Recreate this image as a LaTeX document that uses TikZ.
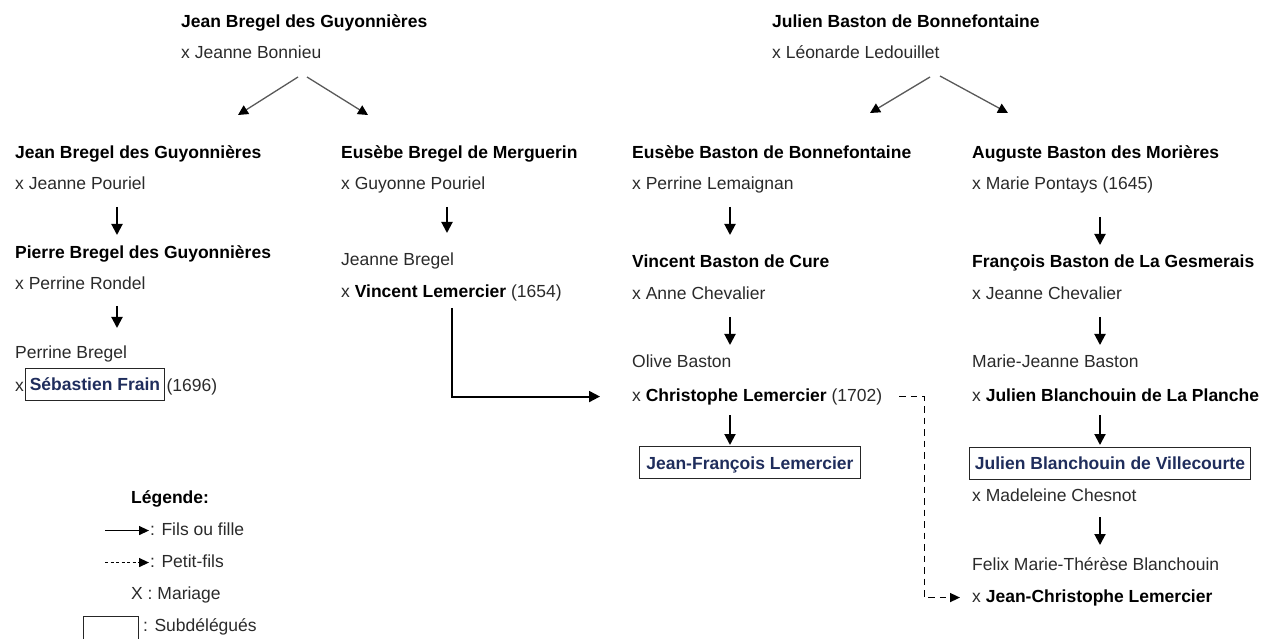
\documentclass[tikz,border=0pt]{standalone}
\usepackage{fontspec}
\setmainfont{Liberation Sans}
\usetikzlibrary{arrows.meta,calc}
\definecolor{subblue}{HTML}{1F2D5C}
\definecolor{plaintext}{HTML}{2A2A2A}
\newcommand\pname[1]{\textcolor{black}{\bfseries #1}}
\tikzset{
  person/.style   = {anchor=base west, inner sep=0pt, text height=12.6bp,
                     text depth=3.7bp, text=plaintext},
  sub box/.style  = {draw=black!85, line width=0.9pt, inner sep=0pt,
                     minimum height=32bp, text height=13bp, text depth=0pt,
                     font=\bfseries, text=subblue, anchor=west},
  kid/.style      = {-{Triangle[length=11bp,width=11bp]}, line width=2bp},
  grandkid/.style = {-{Triangle[length=10bp,width=9bp]}, line width=1.5bp,
                     dash pattern=on 6.5bp off 5bp},
  desc/.style     = {-{Triangle[length=10bp,width=10bp,color=black]},
                     line width=1.3bp, black!65},
  legend kid/.style = {-{Triangle[length=10bp,width=9bp]}, line width=1.3bp},
}

\begin{document}
\fontsize{17.5bp}{21bp}\selectfont
\begin{tikzpicture}[x=1bp,y=-1bp]
  \useasboundingbox (0,0) rectangle (1273,639);

  % couples at the top
  \node[person] (jbg0) at (181,28) {\pname{Jean Bregel des Guyonnières}};
  \node[person] (jbon) at (181,59) {x Jeanne Bonnieu};
  \node[person] (jbb0) at (772,28) {\pname{Julien Baston de Bonnefontaine}};
  \node[person] (lled) at (772,59) {x Léonarde Ledouillet};

  \draw[desc] ([shift={(117,18)}]jbon.base west) -- ++(-60,38);
  \draw[desc] ([shift={(126,18)}]jbon.base west) -- ++(61,38);
  \draw[desc] ([shift={(158,18)}]lled.base west) -- ++(-60,36);
  \draw[desc] ([shift={(168,17)}]lled.base west) -- ++(68,37);

  % Bregel des Guyonnieres
  \node[person] (jbg1) at (15,159) {\pname{Jean Bregel des Guyonnières}};
  \node[person] (jpou) at (15,190) {x Jeanne Pouriel};
  \node[person] (pbg)  at (15,259) {\pname{Pierre Bregel des Guyonnières}};
  \node[person] (pron) at (15,290) {x Perrine Rondel};
  \node[person] (pbr)  at (15,359) {Perrine Bregel};
  \node[person] (sfx)  at (15,391) {x};
  \node[sub box, minimum width=139bp] (sfr) at (25,384) {Sébastien Frain};
  \node[person] (sfy) at ([xshift=1.5bp]sfr.east |- sfx.base) {(1696)};
  \draw[kid] ([shift={(102,17)}]jpou.base west) -- ++(0,28);
  \draw[kid] ([shift={(102,16)}]pron.base west) -- ++(0,22);

  % Bregel de Merguerin
  \node[person] (ebm)  at (341,159) {\pname{Eusèbe Bregel de Merguerin}};
  \node[person] (gpou) at (341,190) {x Guyonne Pouriel};
  \node[person] (jbre) at (341,266) {Jeanne Bregel};
  \node[person] (vlem) at (341,298) {x \pname{Vincent Lemercier} (1654)};
  \draw[kid] ([shift={(106,17)}]gpou.base west) -- ++(0,26);

  % Baston de Bonnefontaine
  \node[person] (ebb)  at (632,159) {\pname{Eusèbe Baston de Bonnefontaine}};
  \node[person] (plem) at (632,190) {x Perrine Lemaignan};
  \node[person] (vbc)  at (632,268) {\pname{Vincent Baston de Cure}};
  \node[person] (ache) at (632,300) {x Anne Chevalier};
  \node[person] (obas) at (632,368) {Olive Baston};
  \node[person] (clem) at (632,401) {x \pname{Christophe Lemercier} (1702)};
  \node[sub box, minimum width=221bp] (jfl) at (639,462.5) {Jean-François Lemercier};
  \draw[kid] ([shift={(98,17)}]plem.base west) -- ++(0,28);
  \draw[kid] ([shift={(98,17)}]ache.base west) -- ++(0,28);
  \draw[kid] ([shift={(98,14)}]clem.base west) -- ++(0,30);

  % Baston des Morieres
  \node[person] (abm)  at (972,159) {\pname{Auguste Baston des Morières}};
  \node[person] (mpon) at (972,190) {x Marie Pontays (1645)};
  \node[person] (fbg)  at (972,268) {\pname{François Baston de La Gesmerais}};
  \node[person] (jche) at (972,300) {x Jeanne Chevalier};
  \node[person] (mjb)  at (972,368) {Marie-Jeanne Baston};
  \node[person] (jbp)  at (972,401) {x \pname{Julien Blanchouin de La Planche}};
  \node[sub box, minimum width=281bp] (jbv) at (969,463) {Julien Blanchouin de Villecourte};
  \node[person] (mche) at (972,501) {x Madeleine Chesnot};
  \node[person] (fmtb) at (972,570) {Felix Marie-Thérèse Blanchouin};
  \node[person] (jcl)  at (972,602) {x \pname{Jean-Christophe Lemercier}};
  \draw[kid] ([shift={(128,27)}]mpon.base west) -- ++(0,28);
  \draw[kid] ([shift={(128,17)}]jche.base west) -- ++(0,28);
  \draw[kid] ([shift={(128,14)}]jbp.base west) -- ++(0,30);
  \draw[kid] ([shift={(128,16)}]mche.base west) -- ++(0,28);

  % links between the families
  \draw[kid] ([shift={(111,10)}]vlem.base west) |- ([xshift=-32bp]clem.west);
  \draw[grandkid] ([xshift=17bp]clem.east) -- ++(25,0) |- ([xshift=-12bp]jcl.west);

  % legend
  \node[person] (leg)  at (131,503) {\pname{Légende:}};
  \node[person] (legf) at (150,535) {: Fils ou fille};
  \node[person] (legp) at (150,567) {: Petit-fils};
  \node[person] (legx) at (131,599) {X : Mariage};
  \node[draw=black!85, line width=0.9pt, minimum width=55bp, minimum height=32bp,
        anchor=north west] (legb) at (83,616) {};
  \node[person] (legs) at (143,631) {: Subdélégués};
  \draw[legend kid] ([xshift=-45bp]legf.west) -- ([xshift=-1bp]legf.west);
  \draw[legend kid, dash pattern=on 3bp off 2.5bp] ([xshift=-45bp]legp.west) -- ([xshift=-1bp]legp.west);
\end{tikzpicture}
\end{document}
